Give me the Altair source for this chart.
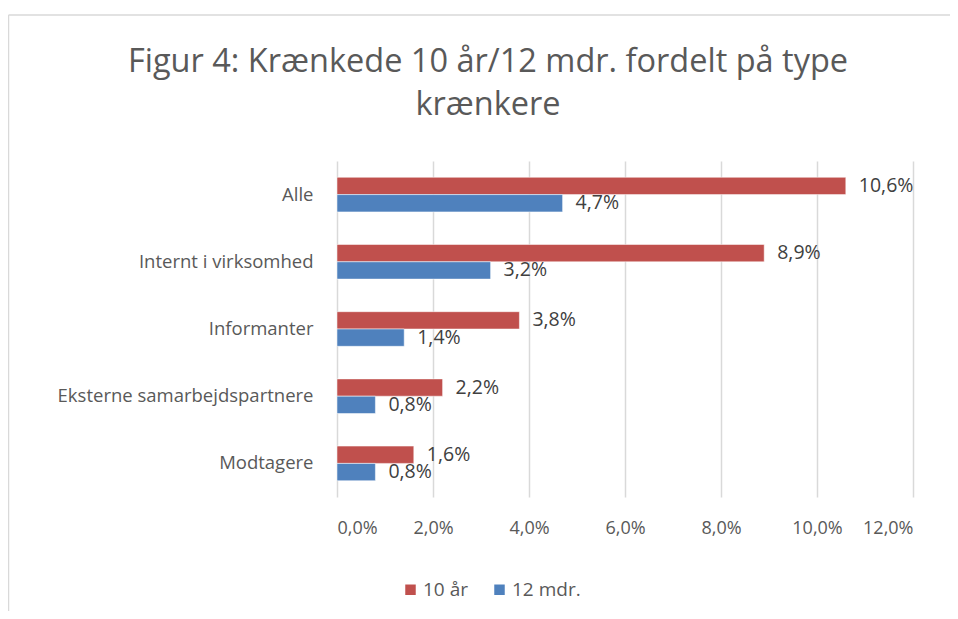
import altair as alt
import pandas as pd

title_lines = ["Figur 4: Krænkede 10 år/12 mdr. fordelt på type", "krænkere"]
categories = ["Alle", "Internt i virksomhed", "Informanter", "Eksterne samarbejdspartnere", "Modtagere"]
series_names = ["10 år", "12 mdr."]
values_10aar = [10.6, 8.9, 3.8, 2.2, 1.6]
values_12mdr = [4.7, 3.2, 1.4, 0.8, 0.8]
x_ticks = [0, 2, 4, 6, 8, 10, 12]
colors = ["#C0504D", "#4F81BD"]

rows = []
for c, a, b in zip(categories, values_10aar, values_12mdr):
    rows.append({"kat": c, "serie": series_names[0], "v": a})
    rows.append({"kat": c, "serie": series_names[1], "v": b})
df = pd.DataFrame(rows)
df["lbl"] = df["v"].map(lambda v: f"{v:.1f}".replace(".", ",") + "%")
one = pd.DataFrame({"k": [0]})

FONT = "Open Sans"
TXT = "#595959"
FS = 18

y_enc = alt.Y("kat:N", sort=categories, title=None,
              scale=alt.Scale(paddingInner=0.485, paddingOuter=0.2425),
              axis=alt.Axis(domain=False, ticks=False, labelFontSize=18.5, labelColor=TXT,
                            labelFont=FONT, labelPadding=24, grid=False, labelLimit=400,
                            minExtent=329, maxExtent=329))
x_enc = alt.X("v:Q", title=None,
              scale=alt.Scale(domain=[0, 12], nice=False),
              axis=alt.Axis(values=x_ticks, domain=False, ticks=False, grid=True,
                            gridColor="#d9d9d9", gridWidth=1.5,
                            labelExpr="replace(format(datum.value, '.1f'), '.', ',') + '%'",
                            labelFontSize=FS, labelColor=TXT, labelFont=FONT, labelPadding=22))
yoff = alt.YOffset("serie:N", sort=series_names, scale=alt.Scale(paddingInner=0, paddingOuter=0))
color_enc = alt.Color("serie:N", sort=series_names,
                      scale=alt.Scale(domain=series_names, range=colors),
                      legend=alt.Legend(title=None, orient="none", legendX=64, legendY=419,
                                        direction="horizontal", symbolType="square",
                                        symbolSize=110, symbolStrokeWidth=0,
                                        labelFontSize=19, labelColor=TXT, labelFont=FONT,
                                        columnPadding=22, labelOffset=3))

bars = alt.Chart(df).mark_bar(stroke="white", strokeWidth=0.5).encode(
    x=x_enc, y=y_enc, yOffset=yoff, color=color_enc)

labels = alt.Chart(df).mark_text(align="left", baseline="middle", dx=13,
                                 fontSize=19.5, font=FONT, color="#404040").encode(
    x="v:Q", y=alt.Y("kat:N", sort=categories), yOffset=alt.YOffset("serie:N", sort=series_names),
    text="lbl:N")

border_v = alt.Chart(one).mark_rule(color="#d9d9d9", strokeWidth=1.5).encode(
    x=alt.value(-328.5), y=alt.value(-146), y2=alt.value(460))
border_h = alt.Chart(one).mark_rule(color="#d9d9d9", strokeWidth=1.5).encode(
    x=alt.value(-328.5), x2=alt.value(620), y=alt.value(-146))

title_layers = []
for i, line in enumerate(title_lines):
    title_layers.append(
        alt.Chart(pd.DataFrame({"t": [line]})).mark_text(
            align="center", baseline="middle", fontSize=32.5, font=FONT,
            fontWeight="normal", color=TXT).encode(
            x=alt.value(151), y=alt.value(-99 + 43 * i), text="t:N")
    )

chart = alt.layer(border_v, border_h, *title_layers, bars, labels).properties(
    width=576, height=336,
    autosize=alt.AutoSizeParams(type="none"),
    padding={"left": 329, "top": 153, "right": 37, "bottom": 114},
    background="white",
).configure_view(stroke=None)

chart.save("out.html", embed_options={"renderer": "svg", "actions": False})
